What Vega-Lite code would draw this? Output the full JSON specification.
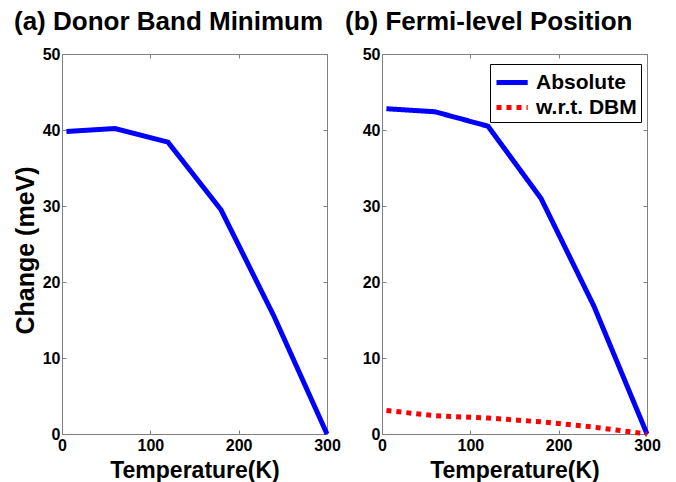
{
  "$schema": "https://vega.github.io/schema/vega-lite/v6.json",
  "padding": {"left": 12, "top": 8, "right": 5, "bottom": 2},
  "background": "white",
  "datasets": {
    "dbm": [
      {"T": 5, "v": 39.8},
      {"T": 60, "v": 40.2},
      {"T": 120, "v": 38.4},
      {"T": 180, "v": 29.5},
      {"T": 240, "v": 15.5},
      {"T": 300, "v": 0}
    ],
    "fermi": [
      {"T": 5, "v": 42.8, "s": "Absolute"},
      {"T": 60, "v": 42.4, "s": "Absolute"},
      {"T": 120, "v": 40.5, "s": "Absolute"},
      {"T": 180, "v": 31.0, "s": "Absolute"},
      {"T": 240, "v": 16.8, "s": "Absolute"},
      {"T": 300, "v": 0, "s": "Absolute"},
      {"T": 5, "v": 3.1, "s": "w.r.t. DBM"},
      {"T": 60, "v": 2.4, "s": "w.r.t. DBM"},
      {"T": 120, "v": 2.1, "s": "w.r.t. DBM"},
      {"T": 180, "v": 1.6, "s": "w.r.t. DBM"},
      {"T": 240, "v": 0.9, "s": "w.r.t. DBM"},
      {"T": 300, "v": 0, "s": "w.r.t. DBM"}
    ]
  },
  "config": {
    "font": "Liberation Sans",
    "view": {"stroke": "#808080", "strokeWidth": 1},
    "axis": {
      "grid": false,
      "domain": false,
      "tickColor": "#808080",
      "tickSize": -4,
      "labelFlush": false,
      "labelFont": "Liberation Sans",
      "labelFontWeight": "bold",
      "labelFontSize": 16,
      "labelColor": "#000000",
      "titleFont": "Liberation Sans",
      "titleFontWeight": "bold",
      "titleColor": "#000000"
    },
    "title": {"font": "Liberation Sans", "fontSize": 26, "fontWeight": "bold", "color": "#000000", "anchor": "start", "frame": "group", "offset": 11}
  },
  "resolve": {"legend": {"color": "independent", "strokeDash": "independent"}, "scale": {"color": "independent", "strokeDash": "independent"}},
  "bounds": "flush",
  "spacing": 55,
  "hconcat": [
    {
      "width": 265,
      "height": 380,
      "title": {"text": "(a)  Donor Band Minimum", "dx": -48},
      "data": {"name": "dbm"},
      "layer": [
        {
          "mark": {"type": "line", "color": "#0000ff", "strokeWidth": 5, "strokeCap": "butt"},
          "encoding": {
            "x": {"field": "T", "type": "quantitative", "scale": {"domain": [0, 300], "nice": false, "zero": false},
              "axis": {"orient": "bottom", "values": [0, 100, 200, 300], "title": "Temperature(K)", "titleFontSize": 23, "titleY": 43, "titleBaseline": "alphabetic", "labelPadding": 7}},
            "y": {"field": "v", "type": "quantitative", "scale": {"domain": [0, 50], "nice": false},
              "axis": {"orient": "left", "values": [0, 10, 20, 30, 40, 50], "title": "Change (meV)", "titleFontSize": 25, "titleX": -29, "titleY": 196, "titleBaseline": "alphabetic", "labelPadding": 6}}
          }
        },
        {
          "mark": {"type": "line", "opacity": 0},
          "encoding": {
            "x": {"field": "T", "type": "quantitative", "axis": {"orient": "top", "values": [0, 100, 200, 300], "labels": false, "title": null}},
            "y": {"field": "v", "type": "quantitative", "axis": {"orient": "right", "values": [0, 10, 20, 30, 40, 50], "labels": false, "title": null}}
          }
        }
      ],
      "resolve": {"axis": {"x": "independent", "y": "independent"}}
    },
    {
      "width": 265,
      "height": 380,
      "title": {"text": "(b)  Fermi-level Position", "dx": -37},
      "data": {"name": "fermi"},
      "layer": [
        {
          "mark": {"type": "line", "strokeWidth": 5, "strokeCap": "butt"},
          "encoding": {
            "x": {"field": "T", "type": "quantitative", "scale": {"domain": [0, 300], "nice": false, "zero": false},
              "axis": {"orient": "bottom", "values": [0, 100, 200, 300], "title": "Temperature(K)", "titleFontSize": 23, "titleY": 43, "titleBaseline": "alphabetic", "labelPadding": 7}},
            "y": {"field": "v", "type": "quantitative", "scale": {"domain": [0, 50], "nice": false},
              "axis": {"orient": "left", "values": [0, 10, 20, 30, 40, 50], "title": null, "labelPadding": 6}},
            "color": {"field": "s", "type": "nominal", "scale": {"domain": ["Absolute", "w.r.t. DBM"], "range": ["#0000ff", "#ff0000"]},
              "legend": {"title": null, "orient": "none", "legendX": 108, "legendY": 10, "strokeColor": "#000000", "fillColor": "#ffffff", "padding": 4,
                "symbolType": "M-1,0H1.6", "symbolSize": 576, "symbolStrokeWidth": 5, "labelFontSize": 21, "labelFont": "Liberation Sans", "labelFontWeight": "bold", "labelColor": "#000000", "labelOffset": 13, "rowPadding": 0, "symbolDash": [5, 5]}},
            "strokeDash": {"field": "s", "type": "nominal", "scale": {"domain": ["Absolute", "w.r.t. DBM"], "range": [[1, 0], [5, 5]]}, "legend": null}
          }
        },
        {
          "mark": {"type": "line", "opacity": 0},
          "encoding": {
            "x": {"field": "T", "type": "quantitative", "axis": {"orient": "top", "values": [0, 100, 200, 300], "labels": false, "title": null}},
            "y": {"field": "v", "type": "quantitative", "axis": {"orient": "right", "values": [0, 10, 20, 30, 40, 50], "labels": false, "title": null}}
          }
        }
      ],
      "resolve": {"axis": {"x": "independent", "y": "independent"}}
    }
  ]
}
